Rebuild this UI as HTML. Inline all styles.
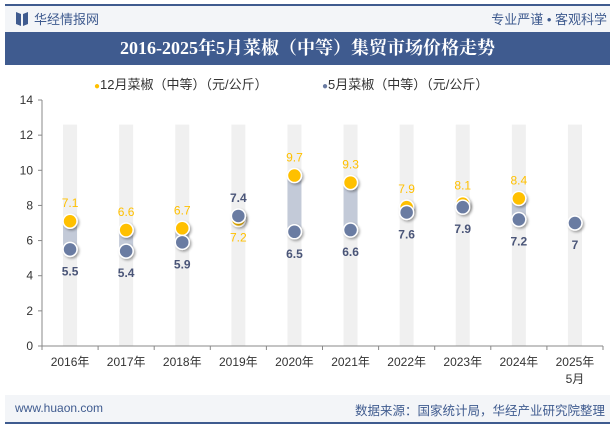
<!DOCTYPE html>
<html><head><meta charset="utf-8"><style>
body{margin:0;width:615px;height:427px;background:#fff;font-family:"Liberation Sans","Noto Sans CJK SC",sans-serif;overflow:hidden;position:relative}
.abs{position:absolute}
</style></head><body>
<div class="abs" style="left:5px;top:5px;width:605px;height:27px;background:#f3f5f8"></div>
<div class="abs" style="left:5px;top:4px;width:605px;height:2px;background:#3f5b8f"></div>
<svg class="abs" style="left:16px;top:12px" width="12" height="14"><path d="M0 0 L5 2 L5 14 L0 12Z M12 0 L7 2 L7 14 L12 12Z" fill="#3f5b8f"/></svg>
<div class="abs" style="left:34px;top:9px;font-size:13px;color:#3f5b8f">华经情报网</div>
<div class="abs" style="right:8px;top:9px;font-size:13px;color:#3f5b8f">专业严谨 • 客观科学</div>
<div class="abs" style="left:5px;top:32px;width:605px;height:33px;background:#3f5b8f;color:#fff;font-family:'Liberation Serif','Noto Serif CJK SC',serif;font-weight:bold;font-size:18px;line-height:33px;text-align:center">2016-2025年5月菜椒（中等）集贸市场价格走势</div>
<div class="abs" style="left:94px;top:74px;font-size:13px;color:#333"><span style="color:#ffc000;font-size:10px">●</span>12月菜椒（中等）（元/公斤）</div>
<div class="abs" style="left:322px;top:74px;font-size:13px;color:#333"><span style="color:#6a7ba2;font-size:10px">●</span>5月菜椒（中等）（元/公斤）</div>
<svg class="abs" id="chart" style="left:0;top:0" width="615" height="427"></svg>
<div class="abs" style="left:5px;top:395px;width:605px;height:28px;background:#f3f5f8"></div>
<div class="abs" style="left:5px;top:422px;width:605px;height:2px;background:#3f5b8f"></div>
<div class="abs" style="left:15px;top:401px;font-size:12px;color:#3f5b8f">www.huaon.com</div>
<div class="abs" style="right:10px;top:400px;font-size:12.5px;color:#3f5b8f">数据来源：国家统计局，华经产业研究院整理</div>
<script>
const categories=["2016年","2017年","2018年","2019年","2020年","2021年","2022年","2023年","2024年","2025年"];
const decValues=[7.1,6.6,6.7,7.2,9.7,9.3,7.9,8.1,8.4,null];
const mayValues=[5.5,5.4,5.9,7.4,6.5,6.6,7.6,7.9,7.2,7];
const yTicks=[0,2,4,6,8,10,12,14];
const svg=document.getElementById('chart');
const NS='http://www.w3.org/2000/svg';
const L=42,R=603,Y0=346,Y14=100;
const y=v=>Y0-(v/14)*(Y0-Y14);
const bw=(R-L)/categories.length;
const x=i=>L+bw*(i+0.5);
function mk(t,a){const e=document.createElementNS(NS,t);for(const k in a)e.setAttribute(k,a[k]);svg.appendChild(e);return e;}
const defs=mk('defs',{});defs.innerHTML='<filter id="sh" x="-50%" y="-50%" width="200%" height="200%"><feDropShadow dx="1.5" dy="1.5" stdDeviation="1.2" flood-color="#000" flood-opacity="0.35"/></filter>';
categories.forEach((c,i)=>{const b=mk('rect',{x:x(i)-7,y:y(12.6),width:14,height:Y0-y(12.6),fill:'#f0f0f0'});
});
let ax=mk('line',{x1:L,y1:y(14),x2:L,y2:Y0,stroke:'#888'});
let xa=mk('line',{x1:L,y1:Y0,x2:R,y2:Y0,stroke:'#888'});
yTicks.forEach(v=>{mk('line',{x1:L-4,y1:y(v),x2:L,y2:y(v),stroke:'#888'});
const t=mk('text',{x:L-9,y:y(v)+4,'text-anchor':'end','font-size':12,fill:'#333'});t.textContent=v;
});
for(let i=0;i<=categories.length;i++)mk('line',{x1:L+bw*i,y1:Y0,x2:L+bw*i,y2:Y0+4,stroke:'#888'});
categories.forEach((c,i)=>{const t=mk('text',{x:x(i),y:Y0+20,'text-anchor':'middle','font-size':12,fill:'#333'});t.textContent=c;

if(i===categories.length-1){const t2=mk('text',{x:x(i),y:Y0+37,'text-anchor':'middle','font-size':12,fill:'#333'});t2.textContent='5月';}
const d=decValues[i],m=mayValues[i];
if(d!=null){const r=mk('rect',{x:x(i)-7,y:y(Math.max(d,m)),width:14,height:Math.abs(y(d)-y(m)),fill:'#c3cad8'});
}
if(d!=null){const p=mk('circle',{cx:x(i),cy:y(d),r:7,fill:'#ffc000',stroke:'#fff','stroke-width':1.5,filter:'url(#sh)'});
}
const q=mk('circle',{cx:x(i),cy:y(m),r:7,fill:'#6a7ba2',stroke:'#fff','stroke-width':1.5,filter:'url(#sh)'});

const decAbove=d!=null&&d>=m;
if(d!=null){const t=mk('text',{x:x(i),y:decAbove?y(d)-14:y(d)+22,'text-anchor':'middle','font-size':12,fill:'#ffc000'});t.textContent=d;
}
const mt=mk('text',{x:x(i),y:(d!=null&&!decAbove)?y(m)-14:y(m)+26,'text-anchor':'middle','font-size':12,'font-weight':'bold',fill:'#4a5578'});mt.textContent=m;
});
</script>
</body></html>
